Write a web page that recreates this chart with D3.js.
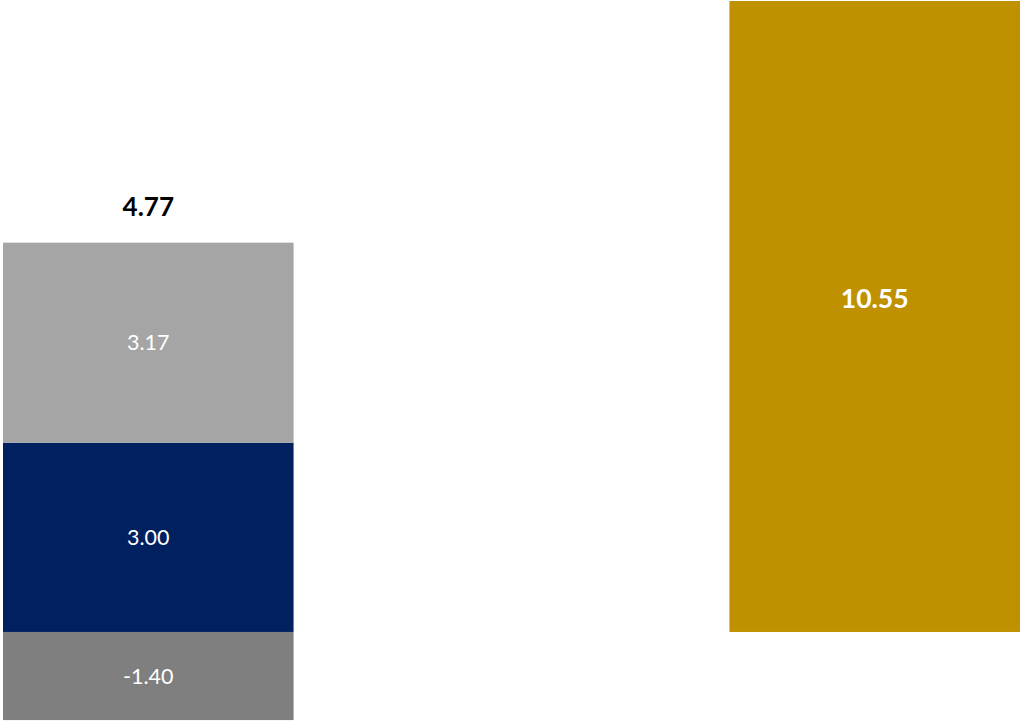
<!DOCTYPE html>
<html>
<head>
<meta charset="utf-8">
<script src="https://cdn.jsdelivr.net/npm/d3@7"></script>
<style>
  body { margin: 0; background: #fff; }
  svg { display: block; font-family: Lato, "Open Sans", sans-serif; }
</style>
</head>
<body>
<div id="chart"></div>
<script>
// Donnees
const categories = ["Composantes", "Total"];
const stackSeries = ["neg", "mid", "top"];
const stackValues = [-1.40, 3.00, 3.17];
const stackColors = ["#7f7f7f", "#002060", "#a5a5a5"];
const totalValue = 10.55;
const totalColor = "#bf9000";
const yDomain = [-1.4, 10];

const width = 1022;
const height = 721;

const svg = d3
  .select("#chart")
  .append("svg")
  .attr("width", width)
  .attr("height", height);

const x = d3
  .scaleBand()
  .domain(categories)
  .range([3, 1020])
  .paddingInner(0.6)
  .paddingOuter(0);

const y = d3.scaleLinear().domain(yDomain).range([720.3, 1]);

// zone de trace (les barres hors echelle sont coupees)
svg
  .append("clipPath")
  .attr("id", "plot-clip")
  .append("rect")
  .attr("x", 0)
  .attr("y", y(yDomain[1]))
  .attr("width", width)
  .attr("height", y(yDomain[0]) - y(yDomain[1]));

// Empilement : positifs au-dessus de zero, negatifs en dessous
let posBase = 0;
let negBase = 0;
const segments = stackValues.map((v, i) => {
  let y0, y1;
  if (v >= 0) {
    y0 = posBase;
    y1 = posBase + v;
    posBase = y1;
  } else {
    y0 = negBase + v;
    y1 = negBase;
    negBase = y0;
  }
  return { key: stackSeries[i], value: v, y0, y1, color: stackColors[i] };
});
const stackTotal = d3.sum(stackValues);

const plot = svg.append("g").attr("clip-path", "url(#plot-clip)");

plot
  .selectAll(".segment")
  .data(segments)
  .enter()
  .append("rect")
  .attr("class", "segment")
  .attr("x", x(categories[0]))
  .attr("width", x.bandwidth())
  .attr("y", (d) => y(d.y1))
  .attr("height", (d) => y(d.y0) - y(d.y1))
  .attr("fill", (d) => d.color);

plot
  .append("rect")
  .attr("class", "total-bar")
  .attr("x", x(categories[1]))
  .attr("width", x.bandwidth())
  .attr("y", y(totalValue))
  .attr("height", y(0) - y(totalValue))
  .attr("fill", totalColor);

// Etiquettes des segments
svg
  .selectAll(".segment-label")
  .data(segments)
  .enter()
  .append("text")
  .attr("class", "segment-label")
  .attr("x", x(categories[0]) + x.bandwidth() / 2)
  .attr("y", (d) => (y(d.y0) + y(d.y1)) / 2)
  .attr("dy", "0.35em")
  .attr("text-anchor", "middle")
  .attr("fill", "#fff")
  .style("font-size", "21.5px")
  .text((d) => d.value.toFixed(2));

// Total au-dessus de la pile
svg
  .append("text")
  .attr("x", x(categories[0]) + x.bandwidth() / 2)
  .attr("y", y(posBase) - 36)
  .attr("dy", "0.35em")
  .attr("text-anchor", "middle")
  .attr("fill", "#000")
  .style("font-size", "26px")
  .style("font-weight", "bold")
  .text(stackTotal.toFixed(2));

// Valeur de la barre totale
svg
  .append("text")
  .attr("x", x(categories[1]) + x.bandwidth() / 2)
  .attr("y", (y(0) + y(totalValue)) / 2)
  .attr("dy", "0.35em")
  .attr("text-anchor", "middle")
  .attr("fill", "#fff")
  .style("font-size", "26.5px")
  .style("font-weight", "bold")
  .text(totalValue.toFixed(2));
</script>
</body>
</html>
